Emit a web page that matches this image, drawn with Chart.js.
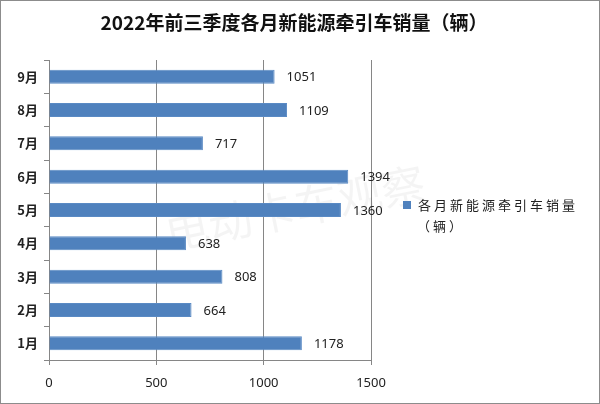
<!DOCTYPE html>
<html>
<head>
<meta charset="utf-8">
<script src="https://cdn.jsdelivr.net/npm/chart.js@4"></script>
<style>
  body { margin: 0; background: #fff; }
  #wrap { position: relative; width: 600px; height: 404px; }
  #legend { position: absolute; left: 403px; top: 194px; font-family: "Noto Sans CJK SC", sans-serif; font-size: 13px; color: #222; line-height: 21px; letter-spacing: 3px; }
  #legend .box { display: inline-block; width: 8px; height: 8px; background: #4F81BD; margin-right: 7px; vertical-align: 1px; }
  #legend .l2 { padding-left: 14px; }
</style>
</head>
<body>
<div id="wrap">
  <canvas id="chart" width="600" height="404"></canvas>
  <div id="legend"></div>
</div>
<script>
// chart data
const months = ['1月', '2月', '3月', '4月', '5月', '6月', '7月', '8月', '9月'];
const sales = [1178, 664, 808, 638, 1360, 1394, 717, 1109, 1051];
const xTicks = [0, 500, 1000, 1500];
const seriesName = '各月新能源牵引车销量（辆）';
const titleText = '2022年前三季度各月新能源牵引车销量（辆）';
const watermarkText = '电动卡车观察';

// legend in html so the name can wrap like the original
const cut = seriesName.indexOf('（');
document.getElementById('legend').innerHTML =
    '<div><span class="box"></span>' + seriesName.slice(0, cut) + '</div>' +
    '<div class="l2">' + seriesName.slice(cut) + '</div>';

// value labels to the right of each bar
const valueLabels = {
    id: 'valueLabels',
    afterDatasetsDraw(chart) {
        const ctx = chart.ctx;
        const meta = chart.getDatasetMeta(0);
        ctx.save();
        ctx.font = '13px "Noto Sans", sans-serif';
        ctx.fillStyle = '#222';
        ctx.textAlign = 'left';
        ctx.textBaseline = 'middle';
        meta.data.forEach((bar, i) => {
            ctx.fillText(String(sales[i]), bar.x + 12, bar.y + 1);
        });
        ctx.restore();
    }
};

// title centred on the whole picture, faint watermark, picture frame
const decor = {
    id: 'decor',
    beforeDatasetsDraw(chart) {
        const ctx = chart.ctx;
        ctx.save();
        ctx.translate(295, 208);
        ctx.rotate(-0.2);
        ctx.font = '44px "Noto Sans CJK SC", sans-serif';
        ctx.fillStyle = 'rgba(0, 0, 0, 0.045)';
        ctx.textAlign = 'center';
        ctx.textBaseline = 'middle';
        ctx.fillText(watermarkText, 0, 0);
        ctx.restore();
    },
    afterDraw(chart) {
        const ctx = chart.ctx;
        ctx.save();
        ctx.font = 'bold 19px "Noto Sans CJK SC", sans-serif';
        ctx.fillStyle = '#111';
        ctx.textAlign = 'center';
        ctx.textBaseline = 'middle';
        ctx.fillText(titleText, 294, 23);
        ctx.strokeStyle = '#8c8c8c';
        ctx.lineWidth = 1;
        ctx.strokeRect(0.5, 0.5, chart.width - 1, chart.height - 1);
        ctx.restore();
    }
};

new Chart(document.getElementById('chart').getContext('2d'), {
    type: 'bar',
    data: {
        labels: months,
        datasets: [{
            label: seriesName,
            data: sales,
            backgroundColor: '#4F81BD',
            borderColor: '#5A8AC4',
            borderWidth: 1,
            barPercentage: 0.42,
            categoryPercentage: 1
        }]
    },
    plugins: [valueLabels, decor],
    options: {
        indexAxis: 'y',
        responsive: false,
        animation: false,
        layout: { padding: { left: 0, right: 229, top: 60, bottom: 0 } },
        plugins: {
            legend: { display: false },
            tooltip: { enabled: false },
            title: { display: false }
        },
        scales: {
            x: {
                min: 0,
                max: 1500,
                afterBuildTicks: (scale) => { scale.ticks = xTicks.map(v => ({ value: v })); },
                afterFit: (scale) => { scale.height = 44; },
                grid: { color: '#868686', tickLength: 5 },
                border: { color: '#868686' },
                ticks: {
                    color: '#222',
                    padding: 10,
                    callback: (v) => String(v),
                    font: { family: '"Noto Sans", sans-serif', size: 13 }
                }
            },
            y: {
                reverse: true,
                afterFit: (scale) => { scale.width = 49; },
                grid: { drawOnChartArea: false, color: '#868686', tickLength: 5 },
                border: { color: '#868686' },
                ticks: {
                    color: '#222',
                    padding: 6,
                    font: { family: '"Noto Sans CJK SC", sans-serif', size: 13, weight: 'bold' }
                }
            }
        }
    }
});
</script>
</body>
</html>
